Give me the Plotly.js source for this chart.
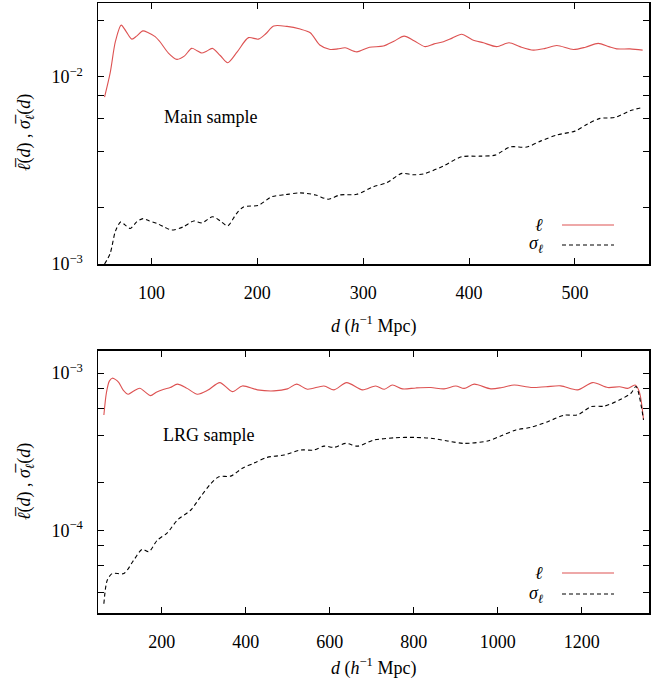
<!DOCTYPE html>
<html>
<head>
<meta charset="utf-8">
<script src="https://cdn.plot.ly/plotly-3.0.1.min.js"></script>
<style>html,body{margin:0;padding:0;background:#fff;}#chart{width:669px;height:689px;}</style>
</head>
<body>
<div id="chart"></div>
<script>
// ---- Main sample (top panel) ----
const mainD_ell = [55.7,61,66,71.4,76,81.5,86,91.9,97,103.5,108,116,124,131,138,143,147.5,152,157.5,165,172,181,191.7,201,208,215.5,228,240.5,250,259,268.8,276,283,294,306,319,329,338.7,348,358.5,367,375.8,384,393,403,413.6,426,437.8,448,460.8,472,482.9,498.5,510,522,532,539.5,552,564];
const mainEll = [0.0078,0.0105,0.0155,0.0189,0.0175,0.0159,0.0165,0.0176,0.0172,0.0164,0.0154,0.0134,0.0124,0.0129,0.0142,0.0138,0.0134,0.0137,0.0142,0.0130,0.0119,0.0136,0.0162,0.0159,0.0170,0.0187,0.0186,0.0180,0.0172,0.0148,0.0140,0.0141,0.0143,0.0136,0.0144,0.0146,0.0155,0.0165,0.0156,0.0145,0.0150,0.0154,0.0161,0.0169,0.0158,0.0152,0.0145,0.0152,0.0145,0.0139,0.0142,0.0147,0.0140,0.0144,0.0151,0.0145,0.0141,0.0141,0.0139];
const mainD_sig = [55.7,61,66,71,75,80,86,92,98,105,112,119,130,140,147.6,157.7,165,172,180,187,201,213.7,227,240.5,255,267,278,294,309,322.3,336.5,347,357,375.8,393,410,424.6,438.8,454.5,468,482.9,500,512,523.7,538,552,564];
const mainSig = [0.00100,0.00114,0.00150,0.00168,0.00162,0.00155,0.00168,0.00175,0.00170,0.00165,0.00158,0.00152,0.00158,0.00170,0.00166,0.00179,0.00170,0.00160,0.00185,0.00202,0.00206,0.00229,0.00235,0.00240,0.00234,0.00222,0.00234,0.00236,0.00258,0.00272,0.00305,0.00300,0.00303,0.00334,0.00374,0.00377,0.00382,0.00422,0.00422,0.00455,0.00489,0.00513,0.00560,0.00600,0.00607,0.00659,0.00687];

// ---- LRG sample (bottom panel) ----
const lrgD_ell = [62,68,75,82,90,97.7,108,120,133,147.7,160,173,188,205,220,237,260,284.5,310,338,368,391.7,427.5,467,499,521,546.7,586,610,640,677.7,709,730,749,773,805,840.5,872,900,920,943.7,983.5,1010,1039,1079,1115,1150,1190,1226,1262,1290,1309,1327,1337,1347];
const lrgEll = [5.42e-4,7.5e-4,8.9e-4,9.29e-4,9.1e-4,8.71e-4,7.8e-4,7.34e-4,7.7e-4,8.02e-4,7.6e-4,7.19e-4,7.6e-4,7.9e-4,8.1e-4,8.51e-4,8.0e-4,7.34e-4,7.8e-4,8.71e-4,7.63e-4,8.29e-4,7.83e-4,7.71e-4,7.94e-4,8.51e-4,7.9e-4,8.29e-4,7.83e-4,8.71e-4,7.83e-4,8.29e-4,7.9e-4,8.4e-4,7.94e-4,8.05e-4,8.1e-4,7.94e-4,8.29e-4,8.0e-4,8.51e-4,7.94e-4,8.1e-4,8.4e-4,8.1e-4,8.2e-4,8.3e-4,7.83e-4,8.71e-4,8.1e-4,8.2e-4,8.0e-4,8.4e-4,7.6e-4,5.04e-4];
const lrgD_sig = [62,70,82,109.6,133,153,169,189,213,237,268.5,292,316,336,364,391.7,419,451,491,530.7,562,586,610,638,666,705,757,801,840.5,880,920,975.6,1007,1043,1079,1119,1158,1190,1222,1254,1293,1317,1329,1347];
const lrgSig = [3.4e-5,4.8e-5,5.3e-5,5.3e-5,6.44e-5,7.54e-5,7.3e-5,8.63e-5,9.62e-5,1.16e-4,1.34e-4,1.63e-4,1.97e-4,2.19e-4,2.21e-4,2.48e-4,2.67e-4,2.91e-4,3.01e-4,3.24e-4,3.24e-4,3.43e-4,3.37e-4,3.57e-4,3.43e-4,3.75e-4,3.88e-4,3.9e-4,3.85e-4,3.7e-4,3.57e-4,3.7e-4,3.98e-4,4.35e-4,4.52e-4,4.91e-4,5.4e-4,5.42e-4,6.12e-4,6.17e-4,6.82e-4,7.45e-4,8.22e-4,5.04e-4];

// ---- ticks & labels ----
const topXTicks = [100,200,300,400,500];
const botXTicks = [200,400,600,800,1000,1200];
const topYTicks = [0.001,0.01];
const topYText = ['10<sup>−3</sup>','10<sup>−2</sup>'];
const topYMinor = [0.002,0.004,0.006,0.008,0.02];
const botYTicks = [1e-4,1e-3];
const botYText = ['10<sup>−4</sup>','10<sup>−3</sup>'];
const botYMinor = [4e-5,6e-5,8e-5,2e-4,4e-4,6e-4,8e-4];
const seriesNames = ['<i>ℓ</i>','<i>σ<sub>ℓ</sub></i>'];
const panelLabels = ['Main sample','LRG sample'];
const xTitle = '<i>d</i> (<i>h</i><sup>−1</sup> Mpc)';
const yTitle = '<i>ℓ̅</i>(<i>d</i>) , <i>σ̅<sub>ℓ</sub></i>(<i>d</i>)';

const RED = '#dd5252';
const FONT = 'Liberation Serif';
const redLine = {color: RED, width: 1.1, shape: 'spline', smoothing: 0.8};
const blkLine = {color: '#000', width: 1.1, dash: '4px,3px', shape: 'spline', smoothing: 0.8};

const traces = [
  {x: mainD_ell, y: mainEll, xaxis: 'x2', yaxis: 'y2', mode: 'lines', line: redLine, name: seriesNames[0], showlegend: false},
  {x: mainD_sig, y: mainSig, xaxis: 'x2', yaxis: 'y2', mode: 'lines', line: blkLine, name: seriesNames[1], showlegend: false},
  {x: lrgD_ell, y: lrgEll, xaxis: 'x', yaxis: 'y', mode: 'lines', line: redLine, name: seriesNames[0], showlegend: false},
  {x: lrgD_sig, y: lrgSig, xaxis: 'x', yaxis: 'y', mode: 'lines', line: blkLine, name: seriesNames[1], showlegend: false}
];

const axBase = {
  showline: true, linecolor: '#000', linewidth: 1.5, mirror: 'ticks',
  ticks: 'inside', ticklen: 6, tickwidth: 1, tickcolor: '#000',
  showgrid: false, zeroline: false,
  tickfont: {family: FONT, size: 18, color: '#000'}
};
const minorOf = vals => ({tickmode: 'array', tickvals: vals, ticks: 'inside', ticklen: 6, tickwidth: 1, tickcolor: '#000', showgrid: false});

const topDom = [0.572, 1];
const botDom = [0, 0.430];

const layout = {
  width: 669, height: 689,
  font: {family: FONT, size: 18, color: '#000'},
  margin: {l: 98, r: 20, t: 3, b: 76},
  paper_bgcolor: '#fff', plot_bgcolor: '#fff',
  showlegend: false,
  xaxis: Object.assign({}, axBase, {anchor: 'y', range: [48, 1360], tickmode: 'array', tickvals: botXTicks, ticklabelstandoff: 12}),
  yaxis: Object.assign({}, axBase, {domain: botDom, type: 'log', range: [Math.log10(2.97e-5), Math.log10(1.39e-3)], tickmode: 'array', tickvals: botYTicks, ticktext: botYText, ticklabelstandoff: 10, minor: minorOf(botYMinor)}),
  xaxis2: Object.assign({}, axBase, {anchor: 'y2', range: [49.5, 570], tickmode: 'array', tickvals: topXTicks, ticklabelstandoff: 12}),
  yaxis2: Object.assign({}, axBase, {domain: topDom, type: 'log', range: [-3, Math.log10(0.0248)], tickmode: 'array', tickvals: topYTicks, ticktext: topYText, ticklabelstandoff: 10, minor: minorOf(topYMinor)}),
  annotations: [],
  shapes: []
};

const fontTxt = {family: FONT, size: 18, color: '#000'};
// paper coordinate helpers (pixel -> paper)
const PL = 98, PW = 551, PB = 613, PH = 610;
const px = v => (v - PL) / PW;
const py = v => (PB - v) / PH;

// axis titles
[325, 667].forEach(yy => layout.annotations.push({xref:'paper', yref:'paper', x: 0.5, y: py(yy), text: xTitle, showarrow:false, xanchor:'center', yanchor:'middle', font: fontTxt}));
[133, 482].forEach(yy => layout.annotations.push({xref:'paper', yref:'paper', x: px(25), y: py(yy), text: yTitle, textangle: -90, showarrow:false, xanchor:'center', yanchor:'middle', font: fontTxt}));
// panel labels
layout.annotations.push({xref:'paper', yref:'paper', x: px(210), y: py(117), text: panelLabels[0], showarrow:false, xanchor:'center', yanchor:'middle', font: fontTxt});
layout.annotations.push({xref:'paper', yref:'paper', x: px(209), y: py(435), text: panelLabels[1], showarrow:false, xanchor:'center', yanchor:'middle', font: fontTxt});

// hand-made legends (text left of sample line)
function addLegend(yEll, ySig) {
  const rows = [[yEll, seriesNames[0], {color: RED, width: 1.1}], [ySig, seriesNames[1], {color: '#000', width: 1.1, dash: '4px,3px'}]];
  rows.forEach(([yy, name, ln]) => {
    layout.annotations.push({xref:'paper', yref:'paper', x: px(545), y: py(yy), text: name, showarrow:false, xanchor:'right', yanchor:'middle', font: fontTxt});
    layout.shapes.push({type:'line', xref:'paper', yref:'paper', x0: px(562), x1: px(614), y0: py(yy), y1: py(yy), line: ln});
  });
}
addLegend(225, 245);
addLegend(573, 594);

Plotly.newPlot('chart', traces, layout, {staticPlot: true, displayModeBar: false});
</script>
</body>
</html>
